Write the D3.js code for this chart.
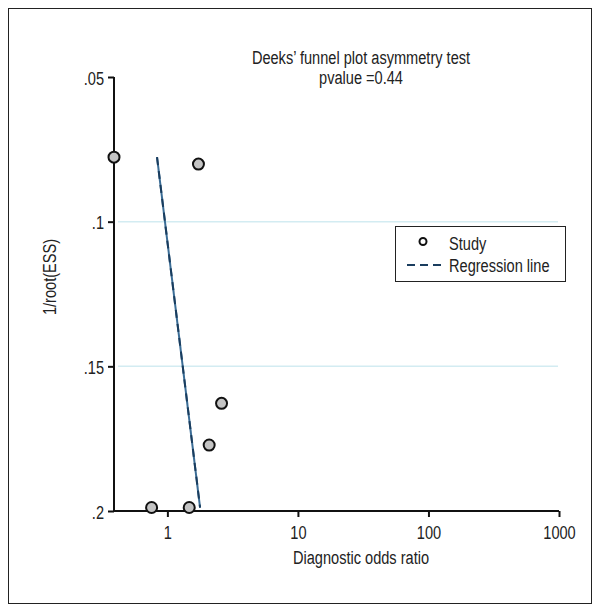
<!DOCTYPE html>
<html><head><meta charset="utf-8">
<script src="https://cdn.jsdelivr.net/npm/d3@7"></script>
<style>
body{margin:0;background:#fff;}
text{font-family:"Liberation Sans",Arial,sans-serif;fill:#222;}
</style></head>
<body><svg id="c" width="599" height="612"></svg>
<script>
const studyDOR = [0.39, 1.73, 2.6, 2.09, 0.757, 1.47];
const studyInvRootESS = [0.0777, 0.0801, 0.1628, 0.1772, 0.1988, 0.1988];
const regDOR = [0.833, 1.78];
const regInvRootESS = [0.0777, 0.1988];
const xTicks = [1, 10, 100, 1000];
const yTicks = [0.05, 0.1, 0.15, 0.2];
const yTickLabels = [".05", ".1", ".15", ".2"];
const gridValues = [0.1, 0.15];
const title = ["Deeks\u2019 funnel plot asymmetry test", "pvalue =0.44"];

const FS = 18;
function condense(sel, k) {
  sel.each(function(){
    const w = this.getComputedTextLength();
    d3.select(this).attr("textLength", w * k).attr("lengthAdjust","spacingAndGlyphs");
  });
}
const K = 0.81;

const svg = d3.select("#c");
svg.append("rect").attr("x",8.5).attr("y",8.5).attr("width",583).attr("height",595)
  .attr("fill","#fff").attr("stroke","#222").attr("stroke-width",1);

const x = d3.scaleLog().domain([0.39, 1000]).range([114, 559]);
const y = d3.scaleLinear().domain([0.05, 0.2]).range([77, 511]);

svg.selectAll(".grid").data(gridValues).enter().append("line")
  .attr("x1",118).attr("x2",558).attr("y1",d=>y(d)).attr("y2",d=>y(d))
  .attr("stroke","#d3ecf2").attr("stroke-width",1.5);

const xAxis = d3.axisBottom(x).tickValues(xTicks).tickFormat(d3.format("d")).tickSize(6).tickPadding(9);
const gx = svg.append("g").attr("transform","translate(0,511)").call(xAxis);
gx.select(".domain").attr("stroke","#111").attr("stroke-width",2).attr("d","M114,0H559");
gx.selectAll(".tick line").attr("stroke","#111").attr("stroke-width",2);
gx.selectAll(".tick text").attr("font-size",FS).attr("fill","#222").style("font-family",'"Liberation Sans",Arial,sans-serif');

const yAxis = d3.axisLeft(y).tickValues(yTicks).tickFormat((d,i)=>yTickLabels[i]).tickSize(6).tickPadding(4);
const gy = svg.append("g").attr("transform","translate(114,0)").call(yAxis);
gy.select(".domain").attr("stroke","#111").attr("stroke-width",2).attr("d","M0,77V511");
gy.selectAll(".tick line").attr("stroke","#111").attr("stroke-width",2);
gy.selectAll(".tick text").attr("font-size",FS).attr("fill","#222").attr("dy","0.4em").style("font-family",'"Liberation Sans",Arial,sans-serif');
gx.selectAll(".tick text").call(condense, K);
gy.selectAll(".tick text").call(condense, K);

svg.append("line")
  .attr("x1",x(regDOR[0])).attr("y1",y(regInvRootESS[0]))
  .attr("x2",x(regDOR[1])).attr("y2",y(regInvRootESS[1]))
  .attr("stroke","#3b6d96").attr("stroke-width",2);
svg.append("line")
  .attr("x1",x(regDOR[0])).attr("y1",y(regInvRootESS[0]))
  .attr("x2",x(regDOR[1])).attr("y2",y(regInvRootESS[1]))
  .attr("stroke","#1a3d5e").attr("stroke-width",2).attr("stroke-dasharray","8,6");

svg.selectAll(".pt").data(studyDOR).enter().append("circle")
  .attr("cx",d=>x(d)).attr("cy",(d,i)=>y(studyInvRootESS[i])).attr("r",5.5)
  .attr("fill","#c4c4c4").attr("stroke","#111").attr("stroke-width",2);

svg.selectAll(".title").data(title).enter().append("text")
  .attr("x",361).attr("y",(d,i)=>64+i*20).attr("text-anchor","middle")
  .attr("font-size",FS).text(d=>d).call(condense, K);

svg.append("text").attr("x",361).attr("y",564).attr("text-anchor","middle").attr("font-size",FS).text("Diagnostic odds ratio").call(condense, K);
svg.append("text").attr("transform","translate(56,277) rotate(-90)").attr("text-anchor","middle").attr("font-size",FS).text("1/root(ESS)").call(condense, K);

const lg = svg.append("g");
lg.append("rect").attr("x",395.5).attr("y",226.5).attr("width",170).attr("height",55)
  .attr("fill","#fff").attr("stroke","#222").attr("stroke-width",1);
lg.append("circle").attr("cx",423).attr("cy",241.5).attr("r",3.5).attr("fill","#fff").attr("stroke","#111").attr("stroke-width",2);
lg.append("line").attr("x1",407).attr("x2",443).attr("y1",265).attr("y2",265)
  .attr("stroke","#1a3d5e").attr("stroke-width",1.8).attr("stroke-dasharray","8,5");
lg.append("text").attr("x",449).attr("y",250).attr("font-size",FS).text("Study").call(condense, K);
lg.append("text").attr("x",449).attr("y",272).attr("font-size",FS).text("Regression line").call(condense, K);
</script></body></html>
